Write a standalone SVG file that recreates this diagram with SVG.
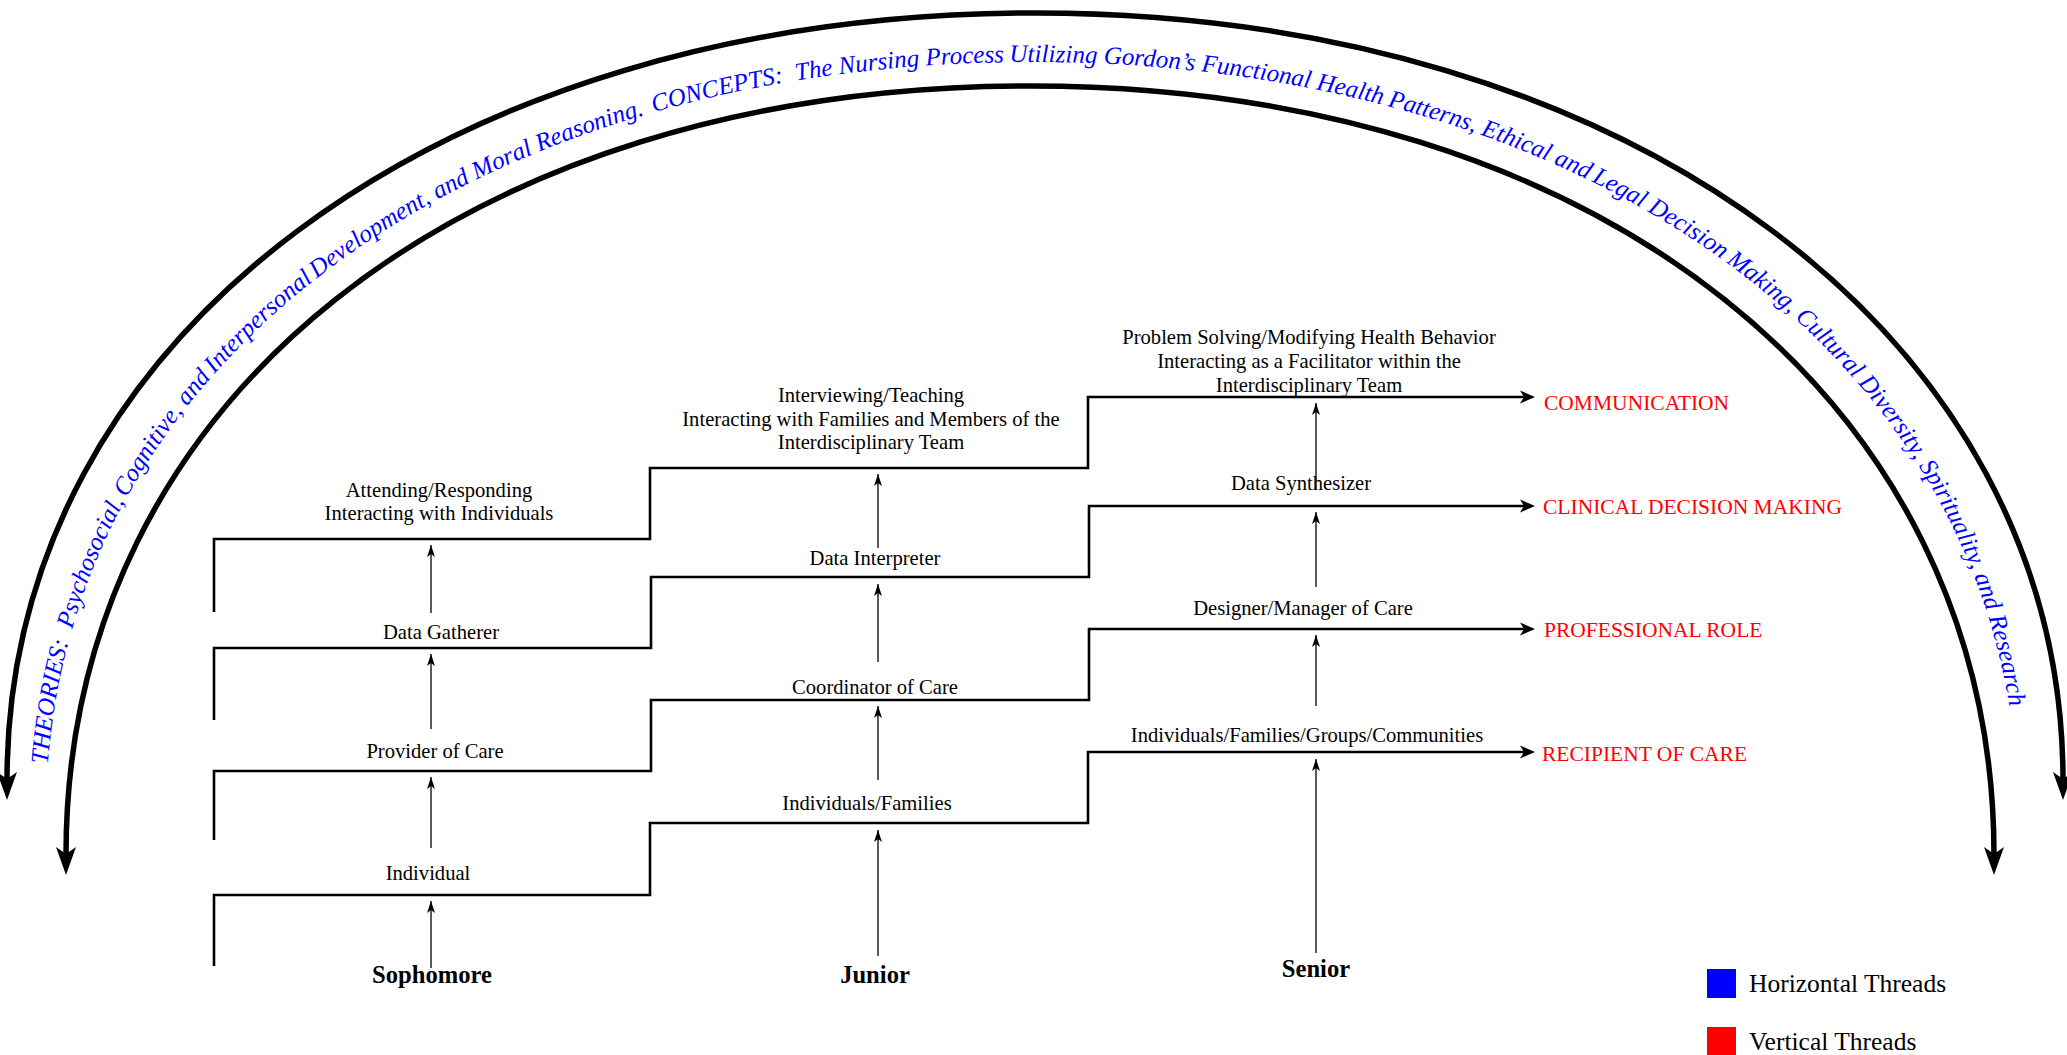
<svg xmlns="http://www.w3.org/2000/svg" width="2067" height="1055" viewBox="0 0 2067 1055">
<style>
.lbl{font-family:"Liberation Serif","Times New Roman",serif;font-size:20.6px;fill:#000;text-anchor:middle}
.yr{font-family:"Liberation Serif","Times New Roman",serif;font-size:24.6px;font-weight:bold;fill:#000;text-anchor:middle}
.red{font-family:"Liberation Serif","Times New Roman",serif;font-size:21.5px;fill:#ff0000}
.leg{font-family:"Liberation Serif","Times New Roman",serif;font-size:25.5px;fill:#000}
.arc{fill:none;stroke:#000;stroke-width:5.5}
.stair{fill:none;stroke:#000;stroke-width:2.6}
.thin{fill:none;stroke:#000;stroke-width:1.3}
.arctext{font-family:"Liberation Serif","Times New Roman",serif;font-style:italic;font-size:25px;fill:#0000ff;text-anchor:middle;white-space:pre}
</style>
<defs>
<marker id="arcHeadEnd" markerUnits="userSpaceOnUse" orient="auto" refX="8" refY="0" markerWidth="40" markerHeight="40" overflow="visible">
<path d="M0,-10 L28,0 L0,10 L7,0 Z" fill="#000"/>
</marker>
<marker id="arcHeadStart" markerUnits="userSpaceOnUse" orient="auto-start-reverse" refX="8" refY="0" markerWidth="40" markerHeight="40" overflow="visible">
<path d="M0,-10 L28,0 L0,10 L7,0 Z" fill="#000"/>
</marker>
<marker id="stairHead" markerUnits="userSpaceOnUse" orient="auto" refX="4" refY="0" markerWidth="30" markerHeight="30" overflow="visible">
<path d="M0,-6.5 L15,0 L0,6.5 L4,0 Z" fill="#000"/>
</marker>
<marker id="thinHead" markerUnits="userSpaceOnUse" orient="auto" refX="12" refY="0" markerWidth="20" markerHeight="20" overflow="visible">
<path d="M0,-4 L12,0 L0,4 L3,0 Z" fill="#000"/>
</marker>
<path id="textArc" d="M 46 815 C 46 375 456 62 1032 62 C 1608 62 2018 375 2018 815"/>
</defs>
<rect width="2067" height="1055" fill="#fff"/>

<g id="connectors">
<path class="arc" d="M 7 780 C 7 337 441 13 1035 13 C 1629 13 2063 337 2063 780" marker-start="url(#arcHeadStart)" marker-end="url(#arcHeadEnd)"/>
<path class="arc" d="M 66 855 C 66 400 462 86 1030 86 C 1598 86 1994 400 1994 855" marker-start="url(#arcHeadStart)" marker-end="url(#arcHeadEnd)"/>
<path class="stair" d="M214,966 V895 H650 V823 H1088 V752 H1524" marker-end="url(#stairHead)"/>
<path class="stair" d="M214,840 V771 H651 V700 H1089 V629 H1524" marker-end="url(#stairHead)"/>
<path class="stair" d="M214,720 V648 H651 V577 H1089 V506 H1524" marker-end="url(#stairHead)"/>
<path class="stair" d="M214,612 V539 H650 V468 H1088 V397 H1524" marker-end="url(#stairHead)"/>
<path class="thin" d="M431,968 V901" marker-end="url(#thinHead)"/>
<path class="thin" d="M431,848 V777" marker-end="url(#thinHead)"/>
<path class="thin" d="M431,729 V654" marker-end="url(#thinHead)"/>
<path class="thin" d="M431,613 V545" marker-end="url(#thinHead)"/>
<path class="thin" d="M878,956 V830" marker-end="url(#thinHead)"/>
<path class="thin" d="M878,780 V706" marker-end="url(#thinHead)"/>
<path class="thin" d="M878,662 V584" marker-end="url(#thinHead)"/>
<path class="thin" d="M878,548 V474" marker-end="url(#thinHead)"/>
<path class="thin" d="M1316,953 V759" marker-end="url(#thinHead)"/>
<path class="thin" d="M1316,706 V635" marker-end="url(#thinHead)"/>
<path class="thin" d="M1316,587 V512" marker-end="url(#thinHead)"/>
<path class="thin" d="M1316,490 V403" marker-end="url(#thinHead)"/>
</g>

<g id="arc-text">
<text class="arctext" xml:space="preserve"><textPath href="#textArc" startOffset="188.6">THEORIES:  Psychosocial,</textPath></text>
<text class="arctext"><textPath href="#textArc" startOffset="404.4">Cognitive, and</textPath></text>
<text class="arctext"><textPath href="#textArc" startOffset="551">Interpersonal</textPath></text>
<text class="arctext"><textPath href="#textArc" startOffset="807.4">Development, and Moral Reasoning.</textPath></text>
<text class="arctext" xml:space="preserve"><textPath href="#textArc" startOffset="1178.7">CONCEPTS:  The Nursing Process</textPath></text>
<text class="arctext"><textPath href="#textArc" startOffset="1549.4">Utilizing Gordon’s Functional Health</textPath></text>
<text class="arctext"><textPath href="#textArc" startOffset="1849.5">Patterns, Ethical and</textPath></text>
<text class="arctext"><textPath href="#textArc" startOffset="2036.7">Legal Decision</textPath></text>
<text class="arctext"><textPath href="#textArc" startOffset="2204.4">Making, Cultural</textPath></text>
<text class="arctext"><textPath href="#textArc" startOffset="2407.1">Diversity, Spirituality,</textPath></text>
<text class="arctext"><textPath href="#textArc" startOffset="2591.5">and Research</textPath></text>
</g>

<g id="sophomore">
<text class="yr" x="432" y="983">Sophomore</text>
<text class="lbl" x="428" y="880">Individual</text>
<text class="lbl" x="435" y="758">Provider of Care</text>
<text class="lbl" x="441" y="639">Data Gatherer</text>
<text class="lbl" x="439" y="497">Attending/Responding</text>
<text class="lbl" x="439" y="520">Interacting with Individuals</text>
</g>

<g id="junior">
<text class="yr" x="875" y="983">Junior</text>
<text class="lbl" x="867" y="810">Individuals/Families</text>
<text class="lbl" x="875" y="694">Coordinator of Care</text>
<text class="lbl" x="875" y="565">Data Interpreter</text>
<text class="lbl" x="871" y="402">Interviewing/Teaching</text>
<text class="lbl" x="871" y="426">Interacting with Families and Members of the</text>
<text class="lbl" x="871" y="449">Interdisciplinary Team</text>
</g>

<g id="senior">
<text class="yr" x="1316" y="977">Senior</text>
<text class="lbl" x="1307" y="742">Individuals/Families/Groups/Communities</text>
<text class="lbl" x="1303" y="615">Designer/Manager of Care</text>
<text class="lbl" x="1301" y="490">Data Synthesizer</text>
<text class="lbl" x="1309" y="344">Problem Solving/Modifying Health Behavior</text>
<text class="lbl" x="1309" y="368">Interacting as a Facilitator within the</text>
<text class="lbl" x="1309" y="392">Interdisciplinary Team</text>
</g>

<g id="vertical-threads">
<text class="red" x="1544" y="410">COMMUNICATION</text>
<text class="red" x="1543" y="514">CLINICAL DECISION MAKING</text>
<text class="red" x="1544" y="637">PROFESSIONAL ROLE</text>
<text class="red" x="1542" y="761">RECIPIENT OF CARE</text>
</g>

<g id="legend">
<rect x="1707" y="969" width="29" height="29" fill="#0000ff"/>
<text class="leg" x="1749" y="992">Horizontal Threads</text>
<rect x="1707" y="1027" width="29" height="30" fill="#ff0000"/>
<text class="leg" x="1749" y="1050">Vertical Threads</text>
</g>
</svg>
